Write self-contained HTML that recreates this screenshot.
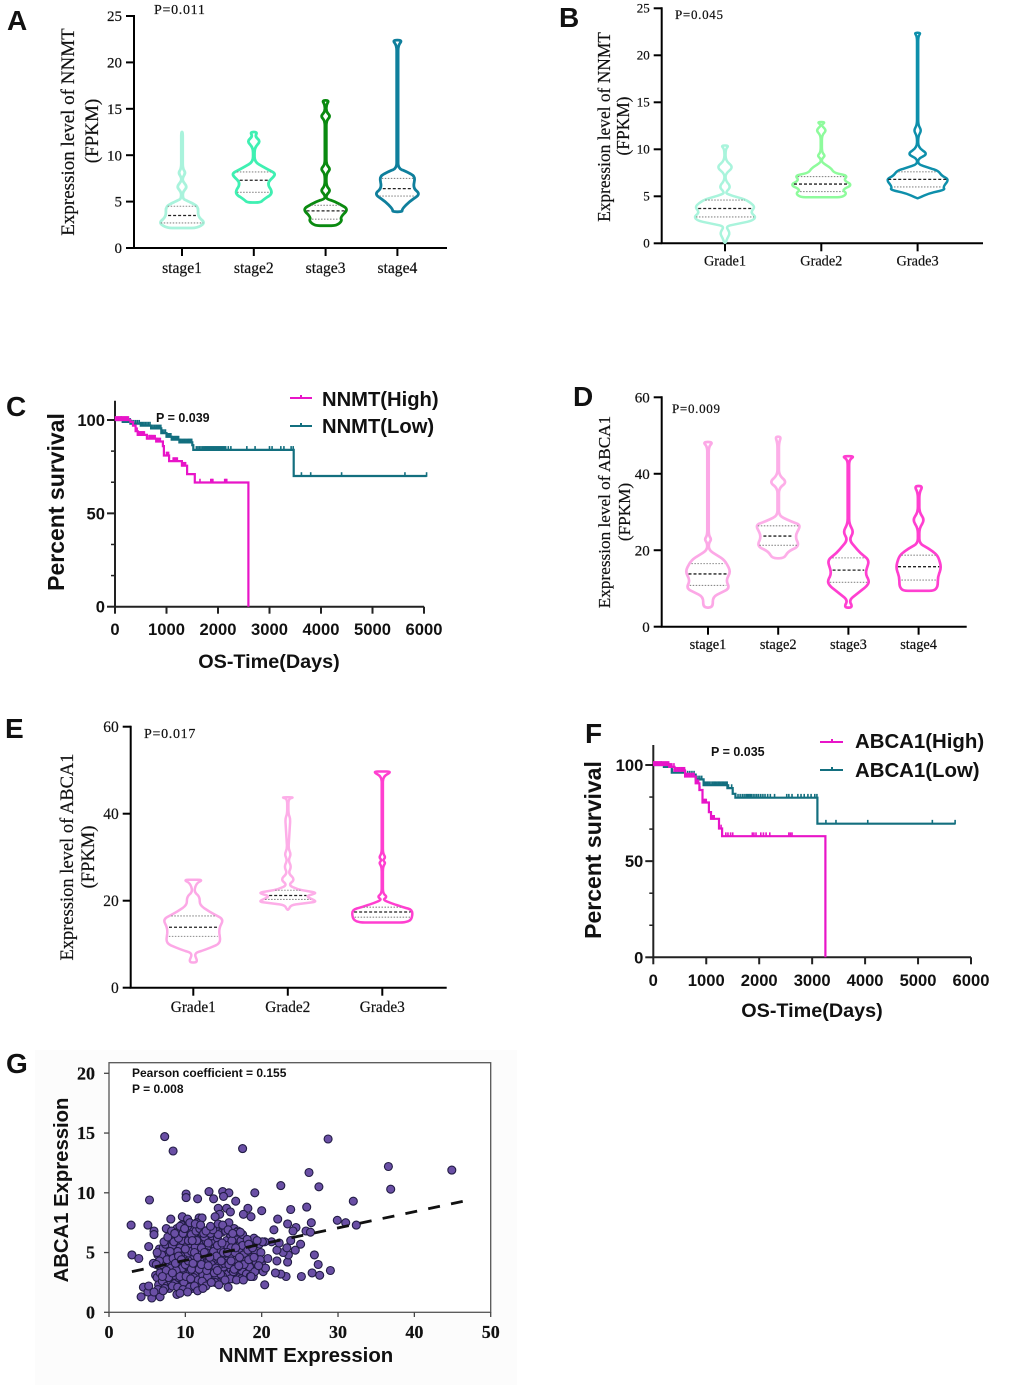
<!DOCTYPE html>
<html lang="en">
<head>
<meta charset="utf-8">
<title>NNMT and ABCA1 expression and survival figure</title>
<style>
html,body{margin:0;padding:0;background:#fff;}
svg{display:block;filter:blur(0.35px);}
.serif{font-family:"Liberation Serif",serif;fill:#111;stroke:#111;stroke-width:.2px;}
.sans{font-family:"Liberation Sans",sans-serif;fill:#111;}
.letter{font-family:"Liberation Sans",sans-serif;font-weight:700;font-size:28px;fill:#111;}
.bold{font-weight:700;}
</style>
</head>
<body>
<svg id="figure" width="1020" height="1389" viewBox="0 0 1020 1389" xmlns="http://www.w3.org/2000/svg">
<rect x="0" y="0" width="1020" height="1389" fill="#fff"/>

<g id="panel-a">
  <text class="letter" x="7" y="30">A</text>
  <text class="serif" x="154" y="14" font-size="14" letter-spacing="0.7">P=0.011</text>
  <text class="serif" transform="rotate(-90 74 132)" x="74" y="132" font-size="19" text-anchor="middle">Expression level of NNMT</text>
  <text class="serif" transform="rotate(-90 98 131)" x="98" y="131" font-size="19" text-anchor="middle">(FPKM)</text>
</g>

<g id="panel-b">
  <text class="letter" x="559" y="27">B</text>
  <text class="serif" x="675" y="19" font-size="13" letter-spacing="0.7">P=0.045</text>
  <text class="serif" transform="rotate(-90 610 127)" x="610" y="127" font-size="17.4" text-anchor="middle">Expression level of NNMT</text>
  <text class="serif" transform="rotate(-90 629 126)" x="629" y="126" font-size="17.4" text-anchor="middle">(FPKM)</text>
</g>

<g id="panel-c">
  <text class="letter" x="6" y="416">C</text>
  <text class="sans bold" x="156" y="422" font-size="12.5">P = 0.039</text>
  <text class="sans bold" transform="rotate(-90 64 502)" x="64" y="502" font-size="23" text-anchor="middle">Percent survival</text>
  <text class="sans bold" x="269" y="668" font-size="19.8" text-anchor="middle">OS-Time(Days)</text>
  <g>
    <path d="M290 398H312M301 395V398" stroke="#e815c8" stroke-width="2" fill="none"/>
    <text class="sans bold" x="322" y="406" font-size="20.2">NNMT(High)</text>
  </g>
  <g>
    <path d="M290 426H312M301 423V426" stroke="#136f7f" stroke-width="2" fill="none"/>
    <text class="sans bold" x="322" y="433" font-size="20.2">NNMT(Low)</text>
  </g>
</g>

<g id="panel-d">
  <text class="letter" x="573" y="406">D</text>
  <text class="serif" x="672" y="413" font-size="13" letter-spacing="0.7">P=0.009</text>
  <text class="serif" transform="rotate(-90 610 512)" x="610" y="512" font-size="17.2" text-anchor="middle">Expression level of ABCA1</text>
  <text class="serif" transform="rotate(-90 630 512)" x="630" y="512" font-size="17.2" text-anchor="middle">(FPKM)</text>
</g>

<g id="panel-e">
  <text class="letter" x="5" y="738">E</text>
  <text class="serif" x="144" y="738" font-size="14" letter-spacing="0.7">P=0.017</text>
  <text class="serif" transform="rotate(-90 73 857)" x="73" y="857" font-size="18.5" text-anchor="middle">Expression level of ABCA1</text>
  <text class="serif" transform="rotate(-90 94 857)" x="94" y="857" font-size="18.5" text-anchor="middle">(FPKM)</text>
</g>

<g id="panel-f">
  <text class="letter" x="585" y="743">F</text>
  <text class="sans bold" x="711" y="756" font-size="12.5">P = 0.035</text>
  <text class="sans bold" transform="rotate(-90 601 850)" x="601" y="850" font-size="23" text-anchor="middle">Percent survival</text>
  <text class="sans bold" x="812" y="1017" font-size="19.8" text-anchor="middle">OS-Time(Days)</text>
  <g>
    <path d="M820 742H843M832 739V742" stroke="#e815c8" stroke-width="2" fill="none"/>
    <text class="sans bold" x="855" y="748" font-size="20.4">ABCA1(High)</text>
  </g>
  <g>
    <path d="M820 770H843M832 767V770" stroke="#136f7f" stroke-width="2" fill="none"/>
    <text class="sans bold" x="855" y="777" font-size="20.4">ABCA1(Low)</text>
  </g>
</g>

<g id="panel-g">
  <rect x="35" y="1050" width="482" height="335" fill="#fcfcfc"/>
  <text class="letter" x="6" y="1073">G</text>
  <rect x="109" y="1062.7" width="381.7" height="249.6" fill="#fff" stroke="#555" stroke-width="1.3"/>
  <text class="sans bold" x="306" y="1362" font-size="20.4" text-anchor="middle">NNMT Expression</text>
  <text class="sans bold" transform="rotate(-90 68 1190)" x="68" y="1190" font-size="20.3" text-anchor="middle">ABCA1 Expression</text>
  <g id="scatter-marks"></g>
  <text class="sans bold" x="132" y="1077" font-size="12">Pearson coefficient = 0.155</text>
  <text class="sans bold" x="132" y="1093" font-size="12">P = 0.008</text>
</g>
</svg>

<script>
/* ---------- Violin data: value along y, relative half-width, [q1, median, q3] ---------- */
const stageLabels = ["stage1","stage2","stage3","stage4"];
const gradeLabels = ["Grade1","Grade2","Grade3"];
const nnmtTicks = [0,5,10,15,20,25];
const abcaTicks = [0,20,40,60];

const aStage1Values  = [2.15,2.7,3.4,4.5,5.1,5.3,6,6.6,7.2,7.6,8.1,8.6,12.5];
const aStage1Density = [.62,.97,.66,.68,.2,.04,.03,.22,.03,.03,.15,.03,.03];
const aStage1Quart   = [2.7,3.5,4.5];
const aStage2Values  = [4.9,5.2,5.9,7,8,8.5,9.3,10.8,11.5,12,12.5];
const aStage2Density = [.27,.4,.8,.55,.95,.55,.03,.03,.28,.06,.14];
const aStage2Quart   = [6,7.3,8.2];
const aStage3Values  = [2.4,2.9,3.3,4.2,5,5.3,5.7,6.2,6.7,8,8.5,9,13.7,14.2,14.7,15.4,15.9];
const aStage3Density = [.45,.68,.62,.95,.4,.03,.03,.2,.03,.03,.2,.03,.03,.2,.03,.03,.14];
const aStage3Quart   = [3.1,4,4.6];
const aStage4Values  = [3.9,4.2,5,5.8,6.5,7.7,8.2,8.6,21.8,22.4];
const aStage4Density = [.2,.2,.5,.95,.65,.75,.4,.03,.03,.2];
const aStage4Quart   = [5.6,6.4,7.5];

const bGrade1Values  = [.05,.5,1.1,1.8,2.4,2.8,3.3,3.9,4.6,5.2,5.4,6,6.7,7.4,8.1,8.8,10,10.4];
const bGrade1Density = [.02,.07,.16,.02,.85,.97,.8,.95,.68,.1,.02,.18,.02,.02,.26,.02,.02,.12];
const bGrade1Quart   = [2.8,3.7,4.6];
const bGrade2Values  = [4.9,5.3,5.7,6.2,6.7,7.2,7.5,8,8.6,9,9.3,9.7,11.5,12,12.5,12.6,12.9];
const bGrade2Density = [.65,.8,.65,.97,.7,.82,.4,.3,.02,.02,.12,.02,.02,.16,.02,.02,.12];
const bGrade2Quart   = [5.5,6.3,7.1];
const bGrade3Values  = [4.8,5.3,5.7,6,6.8,7.2,7.7,8.1,8.4,9,9.5,10.2,11.4,12,12.6,22,22.4];
const bGrade3Density = [.02,.35,.85,.8,.98,.75,.65,.3,.02,.02,.32,.02,.02,.12,.02,.02,.1];
const bGrade3Quart   = [6,6.8,7.6];

const dStage1Values  = [5,7.8,10,12.2,14.4,17.4,20,21.8,22.8,24,47,48.3];
const dStage1Density = [.2,.2,.9,.75,.95,.7,.04,.03,.14,.03,.03,.2];
const dStage1Quart   = [10.8,13.8,16.5];
const dStage2Values  = [17.9,19.6,21.1,23.7,26.6,27.5,29,36.2,37.8,39.7,48,49.7];
const dStage2Density = [.25,.4,.88,.7,.95,.55,.03,.03,.36,.03,.03,.12];
const dStage2Quart   = [21.3,23.7,26.4];
const dStage3Values  = [5,7,10.5,11.8,14,17.4,19.2,22.7,24.8,27,43.6,44.6];
const dStage3Density = [.18,.03,.75,.88,.7,.88,.5,.03,.22,.03,.03,.25];
const dStage3Quart   = [11.6,14.8,18];
const dStage4Values  = [9.4,10.5,13,15.5,18.7,20.5,21.8,25.7,27.9,30,34.9,36.8];
const dStage4Density = [.65,.8,.8,.95,.8,.4,.03,.03,.25,.03,.03,.17];
const dStage4Quart   = [12.2,15.7,18.7];

const eGrade1Values  = [5.8,7.9,8.8,10.2,13.6,15.7,17.5,19,20.9,22.1,24,24.8];
const eGrade1Density = [.15,.02,.4,.85,.8,.95,.5,.2,.2,.02,.1,.3];
const eGrade1Quart   = [11.8,13.9,16.5];
const eGrade2Values  = [17.9,19,19.8,21,21.8,22.6,23.6,24.9,26.3,27.8,29.3,30.7,32,38.8,40,43.4,43.8];
const eGrade2Density = [.02,.1,.93,.55,.93,.3,.02,.22,.02,.11,.02,.1,.02,.08,.02,.02,.2];
const eGrade2Quart   = [20.3,21.2,22.4];
const eGrade3Values  = [15,15.6,17.9,18.6,19.5,20.2,20.9,21.7,27.8,28.7,29.3,30,30.9,48.5,49.7];
const eGrade3Density = [.7,.92,.95,.6,.25,.02,.15,.02,.02,.1,.02,.1,.02,.02,.3];
const eGrade3Quart   = [16.2,17.4,18.5];

/* ---------- Survival data ---------- */
const survivalXTicks = [0,1000,2000,3000,4000,5000,6000];
const survivalYTicks = [0,50,100];
const survivalYMinorTicks = [16.67,33.33,66.67,83.33];

const cHighTimes = [0,300,350,400,440,620,800,930,950,1050,1300,1400,1550,2590];
const cHighSurv  = [100,99,97,94,92,90,88.5,86,81,78,75.5,71,66.5,0];
const cHighCensor = [10,30,50,65,80,95,110,125,140,155,170,185,200,215,230,245,260,410,430,450,465,480,495,510,525,540,555,570,660,675,690,705,720,740,760,780,800,820,840,860,880,1000,1020,1040,1130,1150,1170,1190,1210,1300,1315,1330,1350,1370,1650,1860,1880,1900,2130,2150,2170];
const cLowTimes = [0,150,300,500,700,900,1000,1100,1250,1500,1520,3470,6050];
const cLowSurv  = [100,99,98,97,95.5,93,91,89.5,88,86.5,84,70,70];
const cLowCensor = [120,160,190,225,260,295,330,365,400,435,470,500,530,560,590,620,650,680,710,740,770,800,830,860,890,920,950,980,1010,1035,1060,1085,1110,1135,1160,1185,1210,1235,1260,1285,1310,1335,1360,1385,1410,1430,1450,1470,1490,1580,1610,1640,1670,1700,1725,1750,1770,1790,1810,1830,1850,1870,1890,1910,1930,1950,1970,1990,2010,2030,2050,2070,2090,2110,2130,2150,2200,2250,2560,2720,3000,3050,3220,3280,3420,3460,3620,3800,4400,5630,6050];

const fHighTimes = [0,300,400,600,800,870,930,1050,1090,1240,1300,3250];
const fHighSurv  = [100,99,97,94,90.5,87,80.5,75.5,72,67,63,0];
const fHighCensor = [10,25,40,55,70,85,100,115,130,150,170,190,210,230,250,270,290,310,330,350,390,430,455,480,505,530,550,570,590,610,640,670,700,730,750,770,800,830,855,880,960,980,1000,1100,1120,1135,1150,1280,1370,1410,1460,1500,1870,1900,1940,2030,2080,2130,2200,2560,2590,2620];
const fLowTimes = [0,200,350,600,800,950,1400,1500,1550,3100,5700];
const fLowSurv  = [100,99,96,95,92.5,89.5,88,85,83,69.5,69.5];
const fLowCensor = [150,225,300,360,420,480,540,595,650,690,730,770,810,845,880,915,950,980,1010,1035,1060,1090,1120,1145,1170,1195,1220,1245,1270,1295,1320,1345,1370,1395,1420,1480,1600,1640,1680,1715,1750,1775,1800,1825,1850,1885,1920,1955,1990,2030,2070,2110,2160,2210,2290,2520,2560,2620,2730,2790,2850,2920,2980,3050,3090,3260,3450,4050,5270,5700];

/* ---------- Scatter data: [NNMT, ABCA1] ---------- */
const scatterXTicks = [0,10,20,30,40,50];
const scatterYTicks = [0,5,10,15,20];
const trendX = [3,46.5];
const trendY = [3.4,9.3];
const scatterOutliers = [[7.3,14.7],[8.4,13.5],[17.5,13.7],[28.7,14.5],[36.6,12.2],[44.9,11.9],[26.2,11.7],[22.5,10.6],[27.5,10.5],[36.9,10.3],[10.1,9.9],[10.1,9.6],[5.3,9.4],[13.1,10.1],[14.9,10.1],[13.7,9.5],[15.7,10],[15,9.7],[11.6,9.5],[19.1,10],[16.6,9.3],[32,9.3],[18.2,8.7],[14.3,8.7],[15.4,8.7],[15.9,8.4],[20,8.5],[23.8,8.6],[25.9,8.8],[14.5,8.2],[13.9,8],[17.6,8.2],[18.6,8],[22.1,7.8],[8.1,7.8],[9.6,8],[10.3,7.8],[11.8,7.9],[12.2,7.9],[11.5,7.5],[29.9,7.7],[31,7.5],[32.4,7.3],[2.9,7.3],[5.1,7.3],[26.5,7.5],[23.4,7.4],[24.5,7.1],[24.1,6.8],[21.6,6.9],[25.8,6.8],[26.4,6.7],[5.9,6.8],[5.9,6.5],[5.2,5.5],[23.8,6],[25.1,5.7],[21.3,5.9],[3,4.8],[3.9,4.5],[24.4,5.2],[26.9,4.8],[27.4,4],[29,3.5],[26.6,3.3],[27.6,3.1],[25.2,3],[23.2,3],[22.5,3.2],[21.8,3.3],[20.4,2.3],[23.4,4.2],[23.5,4.8],[22.8,5],[22,5.2],[23.3,5.4],[22.3,5.8],[22,4.3]];
const scatterClusterA = [[6.1,3.1],[6.3,2.9],[6.2,4.1],[6.4,4.8],[6.6,5.3],[6.8,3.6],[6.5,2.3],[7.0,2.6],[7.2,4.4],[7.3,5.0],[7.4,3.2],[7.1,5.4],[7.6,2.2],[7.7,3.9],[7.8,4.7],[7.9,5.6],[7.5,7.0],[8.0,3.0],[8.1,2.6],[8.2,4.3],[8.3,5.1],[8.4,6.2],[8.5,3.5],[8.6,2.4],[8.7,4.9],[8.8,5.8],[8.9,7.0],[9.0,3.8],[9.1,2.9],[9.0,6.4],[9.2,4.4],[9.3,5.4],[9.4,2.2],[9.5,3.2],[9.6,6.0],[9.7,4.0],[9.8,5.0],[9.5,7.3],[9.9,2.7],[10.0,3.5],[10.1,6.7],[10.2,4.7],[10.3,5.6],[10.4,2.4],[10.5,3.0],[10.6,7.0],[10.7,4.2],[10.5,6.2],[10.8,5.1],[10.9,2.0],[11.0,3.6],[11.1,6.5],[11.2,4.5],[11.3,5.5],[11.4,2.6],[11.5,3.2],[11.6,7.2],[11.7,4.0],[11.8,6.1],[11.9,5.0],[12.0,2.3],[12.1,3.4],[12.2,6.6],[12.3,4.6],[12.4,5.7],[12.5,2.9],[12.6,3.8],[12.7,6.0],[12.8,4.2],[12.9,5.2],[13.0,6.9],[13.1,2.5],[13.2,3.3],[13.3,4.9],[13.4,5.9],[13.5,6.4],[13.6,2.8],[13.7,3.7],[13.8,4.4],[13.9,5.4],[14.0,7.0],[14.1,3.0],[14.2,6.2],[14.3,4.1],[14.4,5.0],[14.5,3.4],[14.6,5.7],[14.7,2.6],[14.8,6.7],[14.9,4.6],[15.0,3.8],[15.1,7.1],[15.2,5.3],[15.3,2.9],[15.4,6.0],[15.5,4.3],[15.6,3.2],[15.7,7.5],[15.8,5.0],[15.9,6.5],[16.0,3.6],[16.1,4.7],[16.2,2.8],[16.3,5.6],[16.4,7.0],[16.5,3.9],[16.6,6.2],[16.7,4.4],[16.8,3.1],[16.9,6.8],[17.0,5.2],[17.1,2.9],[17.2,4.0],[17.3,6.0],[17.4,3.5],[17.5,5.6],[17.6,4.8],[17.9,4.3],[18.0,3.2],[18.2,5.2],[18.4,3.8],[18.6,6.0],[18.7,4.6],[18.9,3.0],[19.0,6.2],[19.2,5.0],[19.3,4.2],[19.5,3.7],[19.7,5.7],[19.9,5.0],[20.0,4.0],[20.2,3.4],[20.4,5.9],[20.5,3.7],[20.8,4.5],[20.1,5.9]];
const scatterClusterB = [[6.7,3.3],[7.0,4.0],[7.4,5.7],[7.9,2.0],[8.1,3.7],[8.3,5.6],[8.6,3.1],[8.9,4.3],[9.0,5.1],[9.2,6.8],[9.4,4.7],[9.6,3.7],[9.8,2.5],[10.0,5.3],[10.2,3.9],[10.4,6.0],[10.6,3.3],[10.8,6.5],[10.9,4.4],[11.1,2.9],[11.3,3.9],[11.5,6.0],[11.7,2.7],[11.9,4.3],[12.1,5.4],[12.3,3.1],[12.5,6.3],[12.7,5.0],[12.9,3.0],[13.1,4.3],[13.3,6.6],[13.5,3.5],[13.7,5.1],[13.9,2.5],[14.1,4.7],[14.3,6.5],[14.5,4.0],[14.7,5.2],[14.9,3.0],[15.1,4.1],[15.3,6.8],[15.5,5.6],[15.7,4.0],[15.9,2.8],[16.1,6.0],[16.3,3.4],[16.5,5.0],[16.7,6.7],[16.9,3.8],[17.1,4.6],[17.3,2.8],[17.5,6.5],[17.7,4.0],[18.1,6.1],[18.3,4.4],[18.5,3.0],[18.8,5.4],[19.1,3.4],[19.4,6.0],[19.8,4.4],[8.5,5.9],[9.1,6.2],[9.7,6.6],[10.3,7.2],[10.9,6.0],[11.4,6.8],[11.9,7.0],[12.4,6.6],[13.0,5.8],[13.6,6.9],[14.2,5.6],[14.8,5.8],[15.4,5.0],[16.0,5.4],[16.6,5.4],[17.2,6.7],[6.9,4.8],[7.6,4.4],[8.0,5.1],[8.4,4.5],[8.8,3.5],[9.3,3.0],[9.9,4.4],[10.1,3.0],[10.7,2.8],[11.2,5.0],[11.8,3.6],[12.2,2.6],[12.8,3.5],[13.4,4.0],[14.0,3.7],[14.6,3.2],[15.2,2.7]];
const scatterClusterC = [[6.3,5.0],[6.6,4.3],[7.2,5.9],[7.7,6.3],[8.2,6.8],[8.6,6.6],[9.3,7.2],[9.9,7.0],[10.6,7.5],[11.3,7.4],[12.0,7.3],[12.7,6.8],[13.3,7.2],[14.3,7.4],[14.9,7.3],[15.6,6.9],[16.2,6.6],[7.5,3.5],[7.8,2.9],[8.3,3.3],[8.7,4.1],[9.1,4.7],[9.5,4.4],[10.0,4.0],[10.4,4.3],[10.8,3.6],[11.0,4.1],[11.6,4.6],[12.1,4.0],[12.5,5.0],[13.0,3.9],[13.2,4.6],[13.8,3.3],[14.2,3.5],[14.7,4.3],[15.0,5.0],[15.5,5.0],[16.0,4.3],[16.4,3.6],[17.0,3.9],[7.3,2.0],[8.3,2.2],[9.0,2.1],[9.7,1.9],[10.6,2.1],[11.2,2.2],[12.7,2.2],[13.4,2.5],[18.3,5.7],[19.0,4.6],[19.6,3.9]];
const scatterLowEdge = [[4.2,1.3],[5.6,1.2],[6.7,1.3],[4.5,2.1],[5.1,1.7],[5.2,2.2],[6.4,1.9],[7.1,1.8],[8.9,1.5],[9.3,1.6],[10.3,1.7],[11.6,1.8],[12.3,2],[14.4,2.3],[15.6,2.1],[16.7,2.7],[17.6,2.7],[18.6,3.0],[5.8,4.1],[6.2,4.0],[7.0,3.0],[5.9,1.7]];

/* ---------- Helpers ---------- */
const NS = "http://www.w3.org/2000/svg";
function make(tag, attrs, parent){
  const node = document.createElementNS(NS, tag);
  for (const key in attrs) node.setAttribute(key, attrs[key]);
  parent.appendChild(node);
  return node;
}
function linear(d0, d1, r0, r1){
  return function(v){ return r0 + (v - d0) * (r1 - r0) / (d1 - d0); };
}
function labelText(parent, x, y, str, size, anchor, cls, name){
  const t = make("text", {x:x, y:y, "font-size":size, "text-anchor":anchor, "class":cls}, parent);
  t.textContent = str;
  
  
  return t;
}
function densityAt(values, density, v){
  for (let k = 1; k < values.length; k++){
    if (v <= values[k]){
      const f = (v - values[k-1]) / (values[k] - values[k-1]);
      return density[k-1] + f * (density[k] - density[k-1]);
    }
  }
  return density[density.length - 1];
}
/* closed outline with each corner rounded by a quadratic curve */
function roundedOutline(pts, maxRadius){
  const n = pts.length;
  function toward(a, b, dist){
    const dx = b[0]-a[0], dy = b[1]-a[1], len = Math.hypot(dx,dy) || 1;
    const r = Math.min(dist, len*0.45);
    return [a[0]+dx*r/len, a[1]+dy*r/len];
  }
  let d = "";
  for (let i = 0; i < n; i++){
    const prev = pts[(i+n-1)%n], cur = pts[i], next = pts[(i+1)%n];
    const p1 = toward(cur, prev, maxRadius), p2 = toward(cur, next, maxRadius);
    d += (i === 0 ? "M" : "L") + p1[0].toFixed(1)+" "+p1[1].toFixed(1);
    d += "Q" + cur[0].toFixed(1)+" "+cur[1].toFixed(1)+" "+p2[0].toFixed(1)+" "+p2[1].toFixed(1);
  }
  return d + "Z";
}

function drawViolinPanel(id, layout, ticks, labels, violins){
  const g = document.getElementById(id);
  const y = linear(0, layout.yMax, layout.y0, layout.yTop);
  const cx = function(i){ return layout.cat0 + i * layout.catStep; };
  const axes = make("path", {
    d:"M"+layout.x0+" "+(layout.yTop-1)+"V"+layout.y0+"H"+layout.xEnd,
    fill:"none", stroke:"#000", "stroke-width":2
  }, g);
  
  
  ticks.forEach(function(t){
    const mark = make("line", {x1:layout.x0-8, x2:layout.x0, y1:y(t), y2:y(t), stroke:"#000", "stroke-width":2}, g);
    
    
    labelText(g, layout.x0-12, y(t)+layout.tickFont*0.34, String(t), layout.tickFont, "end", "serif", "y-tick-label");
  });
  labels.forEach(function(lab, i){
    const mark = make("line", {x1:cx(i), x2:cx(i), y1:layout.y0, y2:layout.y0+8, stroke:"#000", "stroke-width":2}, g);
    
    
    labelText(g, cx(i), layout.labelY, lab, layout.labelFont, "middle", "serif", "x-tick-label");
  });
  violins.forEach(function(v, i){
    const right = v.values.map(function(val, k){ return [cx(i) + v.density[k]*layout.halfWidth, y(val)]; });
    const left = v.values.map(function(val, k){ return [cx(i) - v.density[k]*layout.halfWidth, y(val)]; }).reverse();
    const shape = make("path", {
      d:roundedOutline(right.concat(left), 5),
      fill:"none", stroke:v.color, "stroke-width":layout.stroke, "stroke-linejoin":"round"
    }, g);
    
    
    v.quart.forEach(function(q, j){
      const hw = densityAt(v.values, v.density, q) * layout.halfWidth - 2;
      const isMedian = j === 1;
      const line = make("line", {
        x1:cx(i)-hw, x2:cx(i)+hw, y1:y(q), y2:y(q),
        stroke:isMedian ? "#222" : "#8a8a8a",
        "stroke-width":isMedian ? 1.3 : 1.1,
        "stroke-dasharray":isMedian ? "3 2" : "1.5 1.5"
      }, g);
      
      
    });
  });
}

function survivalAt(times, surv, t){
  let s = surv[0];
  for (let k = 0; k < times.length; k++){ if (t >= times[k]) s = surv[k]; }
  return s;
}
function drawSurvivalPanel(id, layout, series){
  const g = document.getElementById(id);
  const x = linear(0, 6000, layout.x0, layout.x6000);
  const y = linear(0, 100, layout.y0, layout.y100);
  const axes = make("path", {
    d:"M"+layout.x0+" "+layout.yTop+"V"+layout.y0+"H"+layout.x6000,
    fill:"none", stroke:"#222", "stroke-width":2
  }, g);
  
  
  survivalYTicks.forEach(function(t){
    const mark = make("line", {x1:layout.x0-8, x2:layout.x0, y1:y(t), y2:y(t), stroke:"#222", "stroke-width":2}, g);
    
    
    labelText(g, layout.x0-10, y(t)+6, String(t), 16.6, "end", "sans bold", "y-tick-label");
  });
  survivalYMinorTicks.forEach(function(t){
    const mark = make("line", {x1:layout.x0-4, x2:layout.x0, y1:y(t), y2:y(t), stroke:"#222", "stroke-width":1.5}, g);
    
    
  });
  survivalXTicks.forEach(function(t){
    const mark = make("line", {x1:x(t), x2:x(t), y1:layout.y0, y2:layout.y0+7, stroke:"#222", "stroke-width":2}, g);
    
    
    labelText(g, x(t), layout.labelY, String(t), 16.6, "middle", "sans bold", "x-tick-label");
  });
  series.forEach(function(s){
    let d = "M"+x(s.times[0]).toFixed(1)+" "+y(s.surv[0]).toFixed(1);
    for (let k = 1; k < s.times.length; k++){
      d += "H"+x(s.times[k]).toFixed(1)+"V"+y(s.surv[k]).toFixed(1);
    }
    const curve = make("path", {d:d, fill:"none", stroke:s.color, "stroke-width":2.2}, g);
    
    
    s.censor.forEach(function(t){
      const yy = y(survivalAt(s.times, s.surv, t));
      const tick = make("line", {x1:x(t), x2:x(t), y1:yy-3.8, y2:yy+.8, stroke:s.color, "stroke-width":1.6}, g);
      
      
    });
  });
}

function drawScatterPanel(){
  const g = document.getElementById("panel-g");
  const marks = document.getElementById("scatter-marks");
  const x = linear(0, 50, 109, 490.7);
  const y = linear(0, 20, 1312.3, 1073.3);
  scatterXTicks.forEach(function(t){
    const mark = make("line", {x1:x(t), x2:x(t), y1:1312.3, y2:1317, stroke:"#444", "stroke-width":1.3}, g);
    
    
    labelText(g, x(t), 1338, String(t), 18, "middle", "serif bold", "x-tick-label");
  });
  scatterYTicks.forEach(function(t){
    const mark = make("line", {x1:104, x2:109, y1:y(t), y2:y(t), stroke:"#444", "stroke-width":1.3}, g);
    
    
    labelText(g, 95, y(t)+6, String(t), 18, "end", "serif bold", "y-tick-label");
  });
  scatterOutliers.concat(scatterClusterA, scatterClusterB, scatterClusterC, scatterLowEdge).forEach(function(p){
    const dot = make("circle", {cx:x(p[0]).toFixed(1), cy:y(p[1]).toFixed(1), r:4, fill:"#6a4fa5", stroke:"#221c45", "stroke-width":1.1}, marks);
    
    
  });
  const trend = make("line", {
    x1:x(trendX[0]), y1:y(trendY[0]), x2:x(trendX[1]), y2:y(trendY[1]),
    stroke:"#111", "stroke-width":2.8, "stroke-dasharray":"12 11.3"
  }, marks);
  
  
}

/* ---------- Render ---------- */
drawViolinPanel("panel-a",
  {x0:134, xEnd:447, y0:248, yTop:16, yMax:25, cat0:182, catStep:71.8, halfWidth:24, stroke:2.8, tickFont:15, labelFont:15.6, labelY:273},
  nnmtTicks, stageLabels, [
  {values:aStage1Values, density:aStage1Density, quart:aStage1Quart, color:"#a9f3dc"},
  {values:aStage2Values, density:aStage2Density, quart:aStage2Quart, color:"#3ff0b2"},
  {values:aStage3Values, density:aStage3Density, quart:aStage3Quart, color:"#0a8a10"},
  {values:aStage4Values, density:aStage4Density, quart:aStage4Quart, color:"#0f7f9c"}
]);
drawViolinPanel("panel-b",
  {x0:661.7, xEnd:983, y0:243.3, yTop:8.3, yMax:25, cat0:725, catStep:96.3, halfWidth:32, stroke:2.5, tickFont:13, labelFont:14.3, labelY:265.5},
  nnmtTicks, gradeLabels, [
  {values:bGrade1Values, density:bGrade1Density, quart:bGrade1Quart, color:"#a9f4dc"},
  {values:bGrade2Values, density:bGrade2Density, quart:bGrade2Quart, color:"#8efb9c"},
  {values:bGrade3Values, density:bGrade3Density, quart:bGrade3Quart, color:"#0e8fab"}
]);
drawViolinPanel("panel-d",
  {x0:661.7, xEnd:966.7, y0:626.7, yTop:397.3, yMax:60, cat0:708, catStep:70.2, halfWidth:24, stroke:2.7, tickFont:15, labelFont:14.4, labelY:649},
  abcaTicks, stageLabels, [
  {values:dStage1Values, density:dStage1Density, quart:dStage1Quart, color:"#fca8e6"},
  {values:dStage2Values, density:dStage2Density, quart:dStage2Quart, color:"#fdaee8"},
  {values:dStage3Values, density:dStage3Density, quart:dStage3Quart, color:"#ff3fd0"},
  {values:dStage4Values, density:dStage4Density, quart:dStage4Quart, color:"#ff3fd0"}
]);
drawViolinPanel("panel-e",
  {x0:130.7, xEnd:446.7, y0:987.7, yTop:726.7, yMax:60, cat0:193.3, catStep:94.5, halfWidth:32, stroke:2.5, tickFont:15.5, labelFont:15.3, labelY:1012},
  abcaTicks, gradeLabels, [
  {values:eGrade1Values, density:eGrade1Density, quart:eGrade1Quart, color:"#fca8e6"},
  {values:eGrade2Values, density:eGrade2Density, quart:eGrade2Quart, color:"#fdaee8"},
  {values:eGrade3Values, density:eGrade3Density, quart:eGrade3Quart, color:"#ff3fd0"}
]);
drawSurvivalPanel("panel-c",
  {x0:115, x6000:424, y0:606.7, y100:420, yTop:400.7, labelY:635}, [
  {name:"nnmt-low", times:cLowTimes, surv:cLowSurv, censor:cLowCensor, color:"#136f7f"},
  {name:"nnmt-high", times:cHighTimes, surv:cHighSurv, censor:cHighCensor, color:"#e815c8"}
]);
drawSurvivalPanel("panel-f",
  {x0:653.3, x6000:971, y0:957.3, y100:765, yTop:745, labelY:986}, [
  {name:"abca1-low", times:fLowTimes, surv:fLowSurv, censor:fLowCensor, color:"#136f7f"},
  {name:"abca1-high", times:fHighTimes, surv:fHighSurv, censor:fHighCensor, color:"#e815c8"}
]);
drawScatterPanel();
</script>
</body>
</html>
